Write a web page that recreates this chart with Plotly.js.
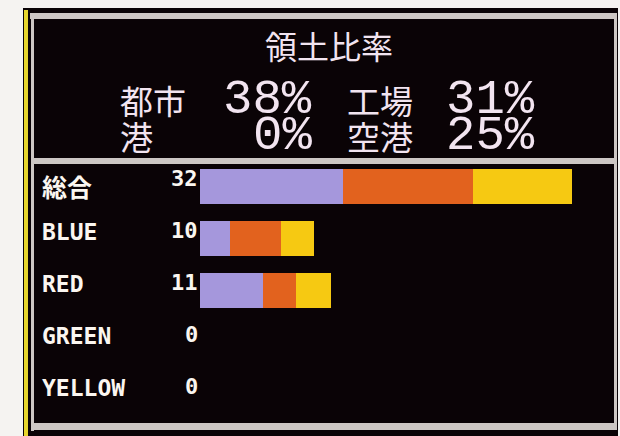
<!DOCTYPE html>
<html>
<head>
<meta charset="utf-8">
<script src="https://cdn.plot.ly/plotly-3.0.1.min.js"></script>
<style>html,body{margin:0;padding:0;background:#f5f3f1;}#chart{width:620px;height:436px;}</style>
</head>
<body>
<div id="chart"></div>
<script>
// ---- data ----
const categories = ['総合', 'BLUE', 'RED', 'GREEN', 'YELLOW'];
const totals = [32, 10, 11, 0, 0];
const cityPart = [12.3, 2.6, 5.4, 0, 0];      // lavender
const factoryPart = [11.2, 4.4, 2.9, 0, 0];   // orange
const airportPart = [8.5, 2.8, 3.0, 0, 0];    // yellow
const chartTitle = '領土比率';
const statLabels = ['都市', '工場', '港', '空港'];
const statValues = [38, 31, 0, 25];

// ---- layout geometry ----
const W = 620, H = 436, ML = 200, MR = 48, MT = 160, MB = 16;
const PW = W - ML - MR, PH = H - MT - MB;
const px = x => (x - ML) / PW;
const py = y => (H - MB - y) / PH;

const BG = '#0a0306';
const FRAME = '#cdc7c4';
const TXT = '#f2e4f0';
const CJK = '"Noto Sans CJK JP", sans-serif';
const MONO = '"Liberation Mono", "DejaVu Sans Mono", monospace';
const PIX = '"DejaVu Sans Mono", monospace';

function rect(x0, y0, x1, y1, color) {
  return {type: 'rect', xref: 'paper', yref: 'paper', layer: 'below',
    x0: px(x0), x1: px(x1), y0: py(y1), y1: py(y0),
    fillcolor: color, line: {width: 0}};
}

const shapes = [
  rect(23, 8, 618, 436, BG),
  rect(24, 10, 28, 436, '#e6d52e'),
  rect(30, 13, 617, 19, FRAME),
  rect(31, 13, 34, 431, FRAME),
  rect(31, 158, 617, 164, FRAME),
  rect(31, 423, 617, 430, FRAME),
  rect(614, 13, 617, 430, FRAME)
];

const annotations = [];
function ann(text, x, y, xanchor, size, family) {
  annotations.push({
    text: text, xref: 'paper', yref: 'paper', x: px(x), y: py(y),
    xanchor: xanchor, yanchor: 'middle', showarrow: false,
    font: {family: family, size: size, color: TXT}
  });
}

// top panel
ann(chartTitle, 329, 45, 'center', 32, CJK);
ann(statLabels[0], 118, 100, 'left', 33, CJK);
ann(statValues[0] + '%', 314, 100, 'right', 49, MONO);
ann(statLabels[1], 345, 100, 'left', 33, CJK);
ann(statValues[1] + '%', 537, 100, 'right', 49, MONO);
ann(statLabels[2], 118, 136, 'left', 33, CJK);
ann(statValues[2] + '%', 314, 136, 'right', 49, MONO);
ann(statLabels[3], 345, 136, 'left', 33, CJK);
ann(statValues[3] + '%', 537, 136, 'right', 49, MONO);

// row labels and totals
categories.forEach((c, i) => {
  const isCjk = /[^\x00-\x7F]/.test(c);
  annotations.push({
    text: '<b>' + c + '</b>',
    xref: 'paper', yref: 'y', x: px(40), y: c, xanchor: 'left', yanchor: 'middle',
    yshift: isCjk ? 0 : 6, showarrow: false,
    font: {family: isCjk ? CJK : PIX, size: isCjk ? 25 : 23, color: '#fbf6f0'}
  });
  annotations.push({
    text: '<b>' + totals[i] + '</b>',
    xref: 'paper', yref: 'y', x: px(200), y: c, xanchor: 'right', yanchor: 'middle',
    yshift: 8, showarrow: false,
    font: {family: PIX, size: 22, color: '#fbf6f0'}
  });
});

const barBase = {type: 'bar', orientation: 'h', y: categories, hoverinfo: 'skip'};
const traces = [
  Object.assign({}, barBase, {name: '都市', x: cityPart, marker: {color: '#a597dc', line: {width: 0}}}),
  Object.assign({}, barBase, {name: '工場', x: factoryPart, marker: {color: '#e2621e', line: {width: 0}}}),
  Object.assign({}, barBase, {name: '空港', x: airportPart, marker: {color: '#f6c912', line: {width: 0}}})
];

const layout = {
  width: W, height: H,
  margin: {l: ML, r: MR, t: MT, b: MB, pad: 0},
  paper_bgcolor: '#f5f3f1',
  plot_bgcolor: 'rgba(0,0,0,0)',
  barmode: 'stack',
  bargap: 0.327,
  showlegend: false,
  xaxis: {range: [0, 32], showgrid: false, zeroline: false, showticklabels: false, showline: false, fixedrange: true},
  yaxis: {type: 'category', categoryorder: 'array', categoryarray: categories, autorange: 'reversed',
    showgrid: false, zeroline: false, showticklabels: false, showline: false, fixedrange: true},
  shapes: shapes,
  annotations: annotations
};

Plotly.newPlot('chart', traces, layout, {displayModeBar: false, staticPlot: true});
</script>
</body>
</html>
